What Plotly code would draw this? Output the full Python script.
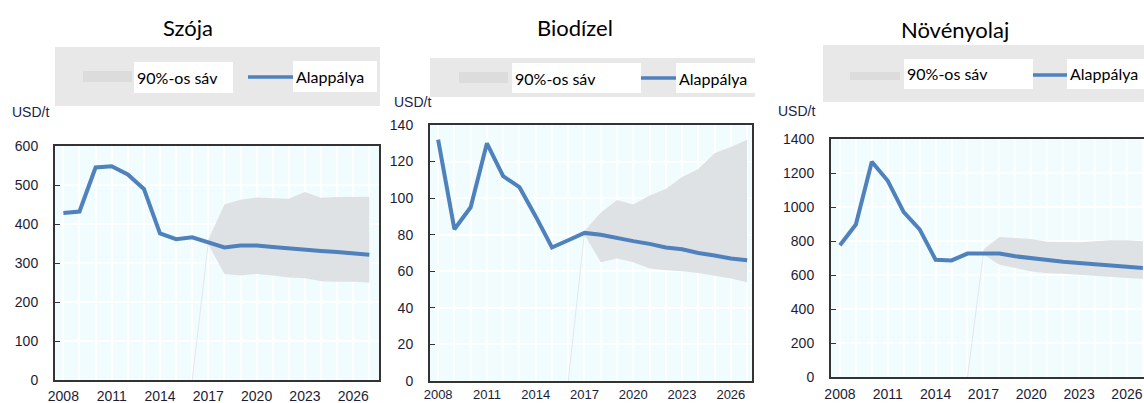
import plotly.graph_objects as go

W, H = 1144, 403

# ---- data ----
YEARS = list(range(2008, 2028))
BAND_YEARS = list(range(2017, 2028))

soy_base = [428, 432, 545, 548, 527, 490, 376, 361, 366, 352,
            340, 345, 345, 341, 337, 334, 331, 328, 325, 321]
soy_hi = [360, 450, 462, 468, 466, 465, 482, 467, 469, 470, 470]
soy_lo = [348, 272, 268, 272, 268, 263, 261, 253, 252, 252, 250]

bio_base = [132, 83, 95, 130, 112, 106, 90, 73, 77, 81,
            80, 78, 76.5, 75, 73, 72, 70, 68.6, 67, 66]
bio_hi = [82, 92, 99, 96.5, 101.5, 105, 111.5, 116, 124.5, 128, 132]
bio_lo = [80, 65, 67, 65, 61.5, 60.5, 60, 59, 57.5, 56, 54]

oil_base = [775, 897, 1266, 1154, 970, 868, 690, 686, 726, 726,
            726, 710, 698, 686, 678, 670, 663, 657, 649, 641]
oil_hi = [750, 824, 818, 812, 795, 793, 793, 799, 805, 805, 799]
oil_lo = [720, 661, 641, 621, 611, 607, 602, 596, 592, 582, 576]

TITLES = ["Szója", "Biodízel", "Növényolaj"]
UNIT = "USD/t"
BAND_LABEL = "90%-os sáv"
BASE_LABEL = "Alappálya"

X_TICKS = [2008, 2011, 2014, 2017, 2020, 2023, 2026]
SOY_YTICKS = [0, 100, 200, 300, 400, 500, 600]
BIO_YTICKS = [0, 20, 40, 60, 80, 100, 120, 140]
OIL_YTICKS = [0, 200, 400, 600, 800, 1000, 1200, 1400]

# ---- style ----
BLUE = "#4F81BD"
BAND = "#DFE2E4"
PLOT_BG = "#F1FCFE"
TICK_FONT = dict(family="Liberation Sans, Arial", size=14, color="#1C1C36")
TEXT_FONT = "Lato, Open Sans, sans-serif"


def px(x):
    return x / W


def py(y):
    return 1 - y / H


# pixel boxes of each panel: (left, top, right, bottom) and x range
panels = [
    dict(base=soy_base, hi=soy_hi, lo=soy_lo, yticks=SOY_YTICKS, box=(55, 146, 379, 380),
         xr=[2007.48, 2027.6], title_xy=(188, 28), unit_xy=(31, 112), mirror_y=True,
         xstand=2, xfont=14,
         legend=dict(grey=(55, 47, 380, 106), swatch=(83, 71, 132, 82), w1=(134, 62, 233, 93),
                     line=(248, 293, 77), w2=(293, 61, 377, 92))),
    dict(base=bio_base, hi=bio_hi, lo=bio_lo, yticks=BIO_YTICKS, box=(430, 125, 752, 381),
         xr=[2007.5, 2027.3], title_xy=(575, 28), unit_xy=(412, 102), mirror_y=True,
         xstand=0, xfont=13,
         legend=dict(grey=(430, 58, 755, 97), swatch=(459, 72, 508, 83), w1=(512, 63, 641, 93),
                     line=(641, 676, 78), w2=(676, 63, 755, 93))),
    dict(base=oil_base, hi=oil_hi, lo=oil_lo, yticks=OIL_YTICKS, box=(831, 139, 1144, 377),
         xr=[2007.44, 2027.07], title_xy=(955, 29), unit_xy=(796, 111), mirror_y=False,
         xstand=3, xfont=14,
         legend=dict(grey=(823, 45, 1144, 102), swatch=(850, 72, 900, 80), w1=(904, 59, 1033, 89),
                     line=(1033, 1067, 75), w2=(1067, 59, 1144, 89))),
]

fig = go.Figure()
layout = dict(width=W, height=H, margin=dict(l=0, r=0, t=0, b=0, autoexpand=False),
              paper_bgcolor="white", plot_bgcolor="rgba(0,0,0,0)", showlegend=False)
shapes = []
annotations = []

for i, p in enumerate(panels, start=1):
    sfx = "" if i == 1 else str(i)
    xa, ya = "x" + sfx, "y" + sfx

    # uncertainty band
    fig.add_trace(go.Scatter(
        x=BAND_YEARS + BAND_YEARS[::-1], y=p["hi"] + p["lo"][::-1],
        xaxis=xa, yaxis=ya, fill="toself", fillcolor=BAND,
        line=dict(width=0), mode="lines", hoverinfo="skip"))
    # faint leader line of the area series
    fig.add_trace(go.Scatter(
        x=[BAND_YEARS[0] - 1, BAND_YEARS[0]], y=[0, p["base"][YEARS.index(BAND_YEARS[0])]],
        xaxis=xa, yaxis=ya, mode="lines", line=dict(color="#E2E8EC", width=1),
        hoverinfo="skip"))
    # baseline
    fig.add_trace(go.Scatter(
        x=YEARS, y=p["base"], xaxis=xa, yaxis=ya, mode="lines",
        line=dict(color=BLUE, width=4), name=BASE_LABEL))

    l, t, r, b = p["box"]
    layout["xaxis" + sfx] = dict(
        domain=[px(l), px(r)], anchor=ya, range=p["xr"], automargin=False,
        tickmode="array", tickvals=YEARS,
        ticktext=[str(y) if y in X_TICKS else "" for y in YEARS],
        showgrid=True, gridcolor="white", gridwidth=1.5, zeroline=False,
        showline=True, linecolor="#333333", linewidth=2, mirror=True,
        ticks="", ticklabelstandoff=p["xstand"], tickfont=dict(TICK_FONT, size=p["xfont"]))
    layout["yaxis" + sfx] = dict(
        domain=[py(b), py(t)], anchor=xa, range=[0, p["yticks"][-1]], automargin=False,
        tickmode="array", tickvals=p["yticks"],
        showgrid=True, gridcolor="white", gridwidth=1.5, zeroline=False,
        showline=True, linecolor="#333333", linewidth=2, mirror=p["mirror_y"],
        ticks="inside", ticklen=5, tickcolor="#333333", ticklabelstandoff=12,
        tickfont=TICK_FONT)

    # plot-area background
    shapes.append(dict(type="rect", xref="paper", yref="paper", layer="below",
                       x0=px(l), x1=px(r), y0=py(b), y1=py(t),
                       fillcolor=PLOT_BG, line=dict(width=0)))

    # title and unit
    annotations.append(dict(text=TITLES[i - 1], xref="paper", yref="paper",
                            x=px(p["title_xy"][0]), y=py(p["title_xy"][1]),
                            xanchor="center", yanchor="middle", showarrow=False,
                            font=dict(family=TEXT_FONT, size=22, color="black")))
    annotations.append(dict(text=UNIT, xref="paper", yref="paper",
                            x=px(p["unit_xy"][0]), y=py(p["unit_xy"][1]),
                            xanchor="center", yanchor="middle", showarrow=False,
                            font=dict(family="Liberation Sans, Arial", size=14,
                                      color="#22224A")))

    # legend block
    lg = p["legend"]
    g = lg["grey"]
    shapes.append(dict(type="rect", xref="paper", yref="paper", x0=px(g[0]), x1=px(g[2]),
                       y0=py(g[3]), y1=py(g[1]), fillcolor="#E8E8E8", line=dict(width=0)))
    s = lg["swatch"]
    shapes.append(dict(type="rect", xref="paper", yref="paper", x0=px(s[0]), x1=px(s[2]),
                       y0=py(s[3]), y1=py(s[1]), fillcolor="#DCDCDC", line=dict(width=0)))
    ln = lg["line"]
    shapes.append(dict(type="line", xref="paper", yref="paper", x0=px(ln[0]), x1=px(ln[1]),
                       y0=py(ln[2]), y1=py(ln[2]), line=dict(color=BLUE, width=3.5)))
    for key, label in (("w1", BAND_LABEL), ("w2", BASE_LABEL)):
        bx = lg[key]
        shapes.append(dict(type="rect", xref="paper", yref="paper", x0=px(bx[0]), x1=px(bx[2]),
                           y0=py(bx[3]), y1=py(bx[1]), fillcolor="white", line=dict(width=0)))
        annotations.append(dict(text=label, xref="paper", yref="paper",
                                x=px(bx[0] + 1), y=py((bx[1] + bx[3]) / 2),
                                xanchor="left", yanchor="middle", showarrow=False,
                                font=dict(family=TEXT_FONT, size=16, color="black")))

layout["shapes"] = shapes
layout["annotations"] = annotations
fig.update_layout(**layout)

# drop the browser's default body margin so the figure sits at the page origin
fig.write_html("out.html", config={"displayModeBar": False},
               post_script="document.body.style.margin = '0';")
